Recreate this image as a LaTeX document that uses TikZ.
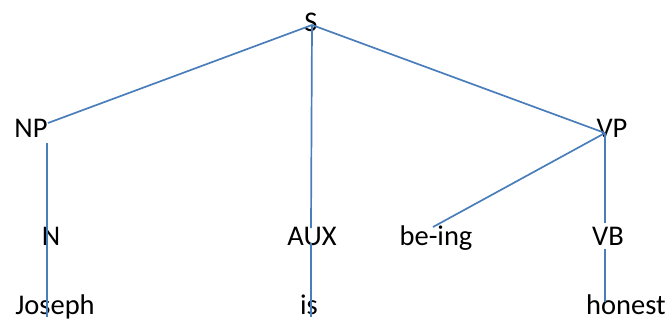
\documentclass[tikz,border=0pt]{standalone}
\usepackage{fontspec}
\setmainfont{Carlito}
\definecolor{treeblue}{HTML}{4A7EBB}
\begin{document}
\begin{tikzpicture}[x=1pt,y=-1pt,
  word/.style={anchor=base,inner sep=0pt,font=\fontsize{28.5}{34}\selectfont},
  branch/.style={draw=treeblue,line width=1.7pt}]
\useasboundingbox (0,0) rectangle (670,322);

% words of the tree
\node[word] (S)      at (311,31)  {S};
\node[word] (NP)     at (31,137)  {NP};
\node[word] (VP)     at (612,137) {VP};
\node[word] (N)      at (51,245)  {N};
\node[word] (AUX)    at (312,245) {AUX};
\node[word] (being)  at (436,245) {be-ing};
\node[word] (VB)     at (608,245) {VB};
\node[word] (Joseph) at (55,314)  {Joseph};
\node[word] (is)     at (309,314) {is};
\node[word] (honest) at (626,314) {honest};

% attachment points of the branches
\coordinate (S-j)     at (312,25);
\coordinate (NP-r)    at (48,123);
\coordinate (NP-b)    at (47,143);
\coordinate (VP-j)    at (605,133);
\coordinate (N-b)     at (47,317);
\coordinate (AUX-t)   at (311,228);
\coordinate (AUX-b)   at (311,243);
\coordinate (is-b)    at (311,317);
\coordinate (being-r) at (433,227);
\coordinate (VB-t)    at (605,223);
\coordinate (VB-b)    at (605,249);
\coordinate (honest-t) at (605,302);

% branches
\draw[branch] (S-j) -- (NP-r);
\draw[branch] (S-j) -- (VP-j);
\draw[branch] (S-j) -- (AUX-t);
\draw[branch] (AUX-b) -- (is-b);
\draw[branch] (NP-b) -- (N-b);
\draw[branch] (VP-j) -- (being-r);
\draw[branch] (VP-j) -- (VB-t);
\draw[branch] (VB-b) -- (honest-t);
\end{tikzpicture}
\end{document}
